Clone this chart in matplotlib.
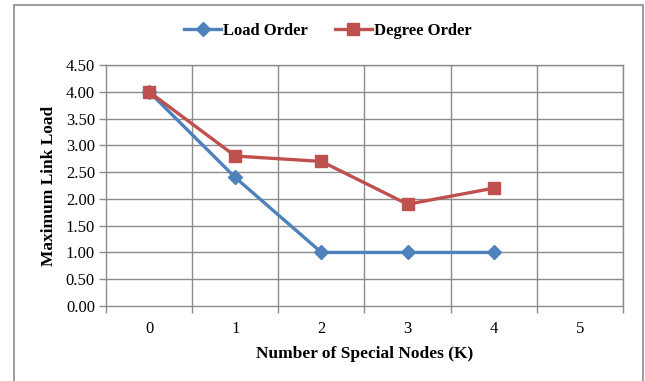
import matplotlib
matplotlib.use('Agg')
import matplotlib.pyplot as plt
from matplotlib.patches import Rectangle

categories = ['0', '1', '2', '3', '4', '5']
k_values = [0, 1, 2, 3, 4]
load_order = [4.0, 2.4, 1.0, 1.0, 1.0]
degree_order = [4.0, 2.8, 2.7, 1.9, 2.2]
y_ticks = [0.0, 0.5, 1.0, 1.5, 2.0, 2.5, 3.0, 3.5, 4.0, 4.5]

plt.rcParams['font.family'] = ['Liberation Serif', 'DejaVu Serif']

W, H = 645, 381
fig = plt.figure(figsize=(W / 100, H / 100), dpi=100)
ax = fig.add_axes([106 / W, 1 - 306 / H, (623 - 106) / W, (306 - 65) / H])

grid_c = '#8c8c8c'
blue = '#4F81BD'
red = '#C0504D'

ax.plot(k_values, load_order, color=blue, lw=2.4, marker='D', ms=7.5,
        label='Load Order', zorder=3)
ax.plot(k_values, degree_order, color=red, lw=2.4, marker='s', ms=8.5,
        label='Degree Order', zorder=4)

ax.set_xlim(-0.5, len(categories) - 0.5)
ax.set_ylim(0, 4.5)
ax.set_yticks(y_ticks)
ax.set_yticklabels([f'{v:.2f}' for v in y_ticks])
ax.set_xticks(range(len(categories)))
ax.set_xticklabels(categories)
ax.set_xticks([i + 0.5 for i in range(-1, len(categories))], minor=True)

ax.tick_params(axis='x', which='major', length=0, pad=11, labelsize=12)
ax.tick_params(axis='x', which='minor', length=5, color=grid_c, width=1)
ax.tick_params(axis='y', length=5, color=grid_c, width=1, labelsize=12, pad=3)

for v in y_ticks[1:]:
    ax.axhline(v, color=grid_c, lw=1, zorder=1)
for i in range(len(categories)):
    ax.axvline(i + 0.5, color=grid_c, lw=1, zorder=1)
for s in ax.spines.values():
    s.set_color(grid_c)
    s.set_linewidth(1)

ax.set_xlabel('Number of Special Nodes (K)', fontsize=12.5, fontweight='bold', labelpad=6)
ax.set_ylabel('Maximum Link Load', fontsize=12.5, fontweight='bold', labelpad=6)

leg = fig.legend(loc='center', bbox_to_anchor=(328 / W, 1 - 31 / H), ncol=2,
                 frameon=False, prop={'weight': 'bold', 'size': 12},
                 handlelength=2.2, columnspacing=1.6, handletextpad=0.15)

fig.patches.append(Rectangle((14 / W, -0.05), (643 - 14) / W, 1.05 - 5 / H,
                             transform=fig.transFigure, fill=False,
                             edgecolor='#8c8c8c', lw=1.2))

fig.savefig('out.png', dpi=100)
